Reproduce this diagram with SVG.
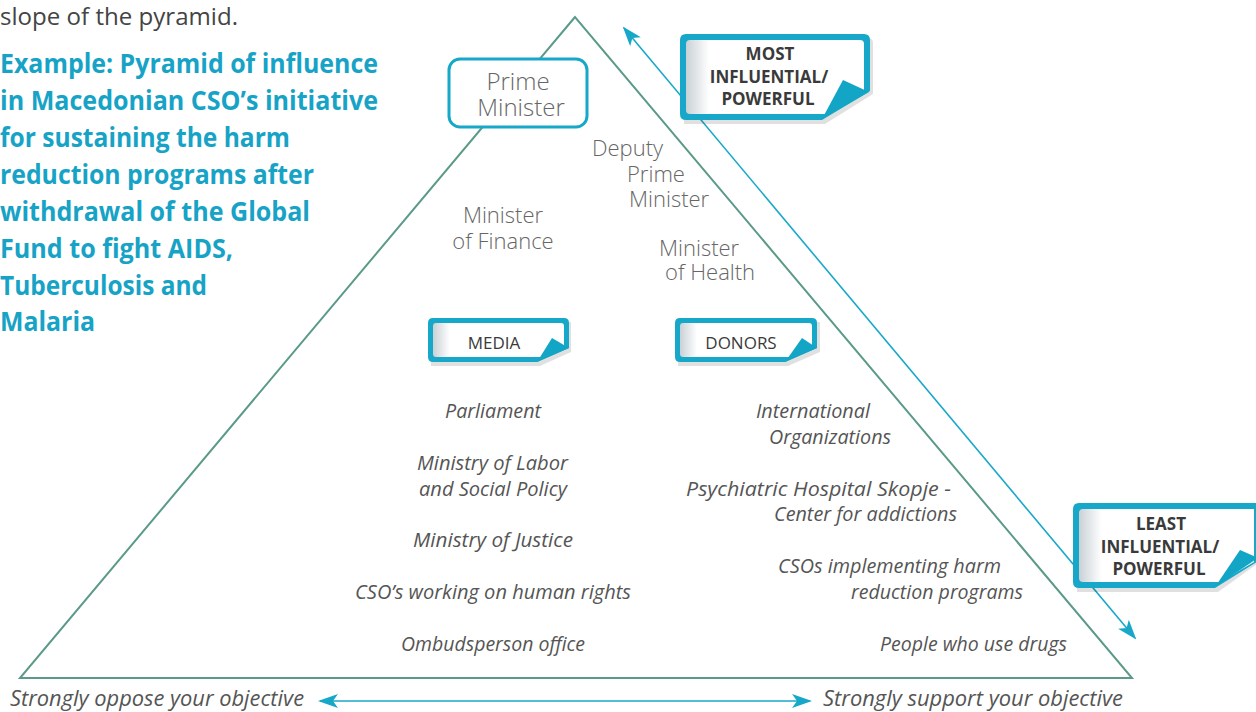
<svg xmlns="http://www.w3.org/2000/svg" width="1256" height="712" viewBox="0 0 1256 712">
<defs>
<style>
.title{font-family:"Open Sans","Liberation Sans",sans-serif;font-weight:bold;font-size:26px;fill:#17a3c6}
.intro{font-family:"Open Sans","Liberation Sans",sans-serif;font-size:23px;fill:#444}
.light{font-family:"Open Sans","Liberation Sans",sans-serif;font-weight:300;font-size:22px;fill:#666}
.it{font-family:"Open Sans","Liberation Sans",sans-serif;font-style:italic;font-size:20px;fill:#555}
.lbl{font-family:"Open Sans","Liberation Sans",sans-serif;font-size:17px;fill:#3a3a3a;text-anchor:middle}
.lblb{font-family:"Open Sans","Liberation Sans",sans-serif;font-weight:bold;font-size:17px;fill:#3a3a3a;text-anchor:middle}
.frame{fill:#17a8c9}
.inner{fill:url(#g)}
.fold{fill:#12a5c6}
.shadow{fill:#000;opacity:0.12}
.conn{stroke:#17a8c9;stroke-width:1.6;fill:none}
</style>
<linearGradient id="g" x1="0" y1="0" x2="1" y2="0">
<stop offset="0" stop-color="#c9d1d6"/>
<stop offset="0.13" stop-color="#ffffff"/>
<stop offset="1" stop-color="#ffffff"/>
</linearGradient>
<marker id="ah" viewBox="0 0 20 14" refX="18" refY="7" markerWidth="20" markerHeight="14" markerUnits="userSpaceOnUse" orient="auto-start-reverse">
<path d="M0,0 L20,7 L0,14 L5,7 Z" fill="#17a8c9"/>
</marker>
</defs>
<rect width="1256" height="712" fill="#ffffff"/>

<g id="intro">
<text class="intro" x="0" y="25" textLength="238" lengthAdjust="spacingAndGlyphs">slope of the pyramid.</text>
</g>
<g id="title">
<text class="title" x="0" y="73" textLength="378" lengthAdjust="spacingAndGlyphs">Example: Pyramid of influence</text>
<text class="title" x="0" y="110" textLength="378" lengthAdjust="spacingAndGlyphs">in Macedonian CSO’s initiative</text>
<text class="title" x="0" y="147" textLength="290" lengthAdjust="spacingAndGlyphs">for sustaining the harm</text>
<text class="title" x="0" y="184" textLength="314" lengthAdjust="spacingAndGlyphs">reduction programs after</text>
<text class="title" x="0" y="221" textLength="310" lengthAdjust="spacingAndGlyphs">withdrawal of the Global</text>
<text class="title" x="0" y="258" textLength="233" lengthAdjust="spacingAndGlyphs">Fund to fight AIDS,</text>
<text class="title" x="0" y="295" textLength="207" lengthAdjust="spacingAndGlyphs">Tuberculosis and</text>
<text class="title" x="0" y="331" textLength="95" lengthAdjust="spacingAndGlyphs">Malaria</text>
</g>

<g id="pyramid">
<polygon points="575,17 20,678 1132,678" fill="none" stroke="#5b9a89" stroke-width="2"/>
</g>

<g id="connectors">
<line class="conn" x1="624" y1="28" x2="1135" y2="638" marker-start="url(#ah)" marker-end="url(#ah)"/>
<line class="conn" x1="320" y1="701" x2="810" y2="701" marker-start="url(#ah)" marker-end="url(#ah)"/>
</g>

<g id="prime-minister">
<rect x="449" y="59" width="138" height="68" rx="11" fill="#fff" stroke="#17a8c9" stroke-width="3"/>
<text class="light" text-anchor="middle" style="font-size:24px"><tspan x="518" y="90">Prime</tspan><tspan x="521" y="116">Minister</tspan></text>
</g>

<g id="deputy-prime-minister">
<text class="light"><tspan x="592" y="156">Deputy</tspan><tspan x="627" y="182">Prime</tspan><tspan x="629" y="207">Minister</tspan></text>
</g>

<g id="minister-finance">
<text class="light" text-anchor="middle"><tspan x="503" y="223">Minister</tspan><tspan x="503" y="249">of Finance</tspan></text>
</g>

<g id="minister-health">
<text class="light"><tspan x="659" y="256">Minister</tspan><tspan x="665" y="280">of Health</tspan></text>
</g>

<g id="most-influential">
<path class="shadow" d="M684,38 H868 Q873,38 873,43 V94 L825,124 H684 Z"/>
<path class="frame" d="M686,34 H864 Q870,34 870,40 V91 L822,120 H686 Q680,120 680,114 V40 Q680,34 686,34 Z"/>
<path class="inner" d="M690,40 H860 Q864,40 864,44 V92 L828,114 H690 Q686,114 686,110 V44 Q686,40 690,40 Z"/>
<polygon class="fold" points="843,80 869,92 822,119"/>
<text class="lblb"><tspan x="770" y="60">MOST</tspan><tspan x="769" y="83">INFLUENTIAL/</tspan><tspan x="768" y="105">POWERFUL</tspan></text>
</g>

<g id="least-influential">
<path class="shadow" d="M1077,507 H1260 V562 L1218,592 H1077 Z"/>
<path class="frame" d="M1079,503 H1260 V560 L1215,588 H1079 Q1073,588 1073,582 V509 Q1073,503 1079,503 Z"/>
<path class="inner" d="M1083,509 H1254 V562 L1220,582 H1083 Q1079,582 1079,578 V513 Q1079,509 1083,509 Z"/>
<polygon class="fold" points="1240,550 1258,558 1215,587"/>
<text class="lblb"><tspan x="1161" y="530">LEAST</tspan><tspan x="1160" y="553">INFLUENTIAL/</tspan><tspan x="1159" y="575">POWERFUL</tspan></text>
</g>

<g id="media">
<path class="shadow" d="M431,322 H571 V352 L540,366 H431 Z"/>
<path class="frame" d="M433,318 H564 Q569,318 569,323 V348 L537,362 H433 Q428,362 428,357 V323 Q428,318 433,318 Z"/>
<path class="inner" d="M436,323 H561 Q564,323 564,326 V349 L542,357 H436 Q433,357 433,354 V326 Q433,323 436,323 Z"/>
<polygon class="fold" points="552,338 569,348 537,362"/>
<text class="lbl" x="494" y="349">MEDIA</text>
</g>

<g id="donors">
<path class="shadow" d="M678,322 H820 V352 L788,366 H678 Z"/>
<path class="frame" d="M680,318 H812 Q817,318 817,323 V348 L785,362 H680 Q675,362 675,357 V323 Q675,318 680,318 Z"/>
<path class="inner" d="M683,323 H809 Q812,323 812,326 V349 L790,357 H683 Q680,357 680,354 V326 Q680,323 683,323 Z"/>
<polygon class="fold" points="802,338 817,348 785,362"/>
<text class="lbl" x="741" y="349">DONORS</text>
</g>

<g id="oppose-side">
<text class="it" x="445" y="418" textLength="96" lengthAdjust="spacingAndGlyphs">Parliament</text>
<text class="it" x="417" y="470" textLength="151" lengthAdjust="spacingAndGlyphs">Ministry of Labor</text>
<text class="it" x="419" y="496" textLength="148" lengthAdjust="spacingAndGlyphs">and Social Policy</text>
<text class="it" x="413" y="547" textLength="160" lengthAdjust="spacingAndGlyphs">Ministry of Justice</text>
<text class="it" x="355" y="599" textLength="276" lengthAdjust="spacingAndGlyphs">CSO’s working on human rights</text>
<text class="it" x="401" y="651" textLength="184" lengthAdjust="spacingAndGlyphs">Ombudsperson office</text>
</g>

<g id="support-side">
<text class="it" x="756" y="418" textLength="114" lengthAdjust="spacingAndGlyphs">International</text>
<text class="it" x="769" y="444" textLength="122" lengthAdjust="spacingAndGlyphs">Organizations</text>
<text class="it" x="686" y="496" textLength="265" lengthAdjust="spacingAndGlyphs">Psychiatric Hospital Skopje -</text>
<text class="it" x="774" y="521" textLength="183" lengthAdjust="spacingAndGlyphs">Center for addictions</text>
<text class="it" x="778" y="573" textLength="223" lengthAdjust="spacingAndGlyphs">CSOs implementing harm</text>
<text class="it" x="851" y="599" textLength="172" lengthAdjust="spacingAndGlyphs">reduction programs</text>
<text class="it" x="880" y="651" textLength="187" lengthAdjust="spacingAndGlyphs">People who use drugs</text>
</g>

<g id="axis-labels">
<text class="it" x="10" y="706" style="font-size:21px" textLength="294" lengthAdjust="spacingAndGlyphs">Strongly oppose your objective</text>
<text class="it" x="823" y="706" style="font-size:21px" textLength="300" lengthAdjust="spacingAndGlyphs">Strongly support your objective</text>
</g>
</svg>
